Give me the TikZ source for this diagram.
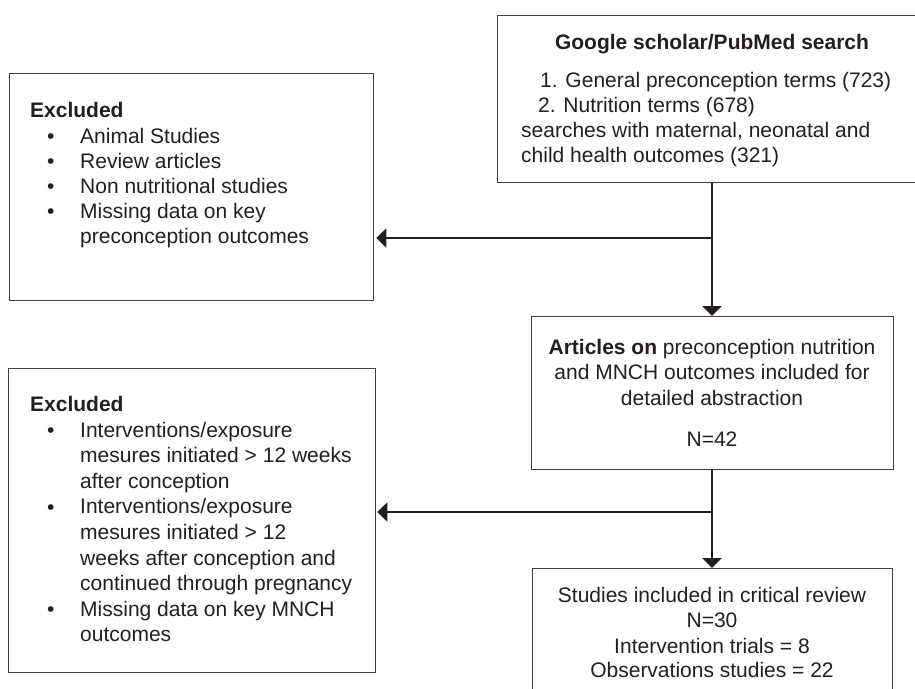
\documentclass[tikz,border=0pt]{standalone}
\usepackage{fontspec}
\setmainfont{Liberation Sans}
\usetikzlibrary{arrows.meta}
\definecolor{ink}{HTML}{231F20}
\begin{document}
\begin{tikzpicture}[x=1pt,y=-1pt,
  frame/.style={draw=ink!85, line width=1.3pt, inner sep=0pt, anchor=north west},
  txt/.style={inner sep=0pt, text=ink, font=\fontsize{21}{25}\selectfont},
  lt/.style={txt, anchor=base west},
  ct/.style={txt, anchor=base},
  flow/.style={draw=ink, line width=2.2pt, -{Triangle[width=19pt,length=10pt]}}]
\useasboundingbox[fill=white] (0,0) rectangle (915,688);

% boxes
\node[frame, minimum width=430pt, minimum height=167pt] (search) at (497,15) {};
\node[frame, minimum width=364pt, minimum height=227pt] (ex1) at (9,73) {};
\node[frame, minimum width=362pt, minimum height=153pt] (art) at (531,316) {};
\node[frame, minimum width=367pt, minimum height=304pt] (ex2) at (8,368) {};
\node[frame, minimum width=360pt, minimum height=140pt] (stud) at (532,568) {};

% search box
\node[ct] (s0) at (712,49) {\textbf{Google scholar/PubMed search}};
\node[lt] (s1) at (540,87) {1. General preconception terms (723)};
\node[lt] (s2) at (538,112) {2. Nutrition terms (678)};
\node[lt] (s3) at (521,137) {searches with maternal, neonatal and};
\node[lt] (s4) at (521,162) {child health outcomes (321)};

% first exclusion list
\node[lt] (e0) at (30,117) {\textbf{Excluded}};
\foreach \y/\n in {143/a,168/b,193/c,218/d}
  \node[lt] (eb\n) at (47,\y) {•};
\node[lt] (e1) at (80,143) {Animal Studies};
\node[lt] (e2) at (80,168) {Review articles};
\node[lt] (e3) at (80,193) {Non nutritional studies};
\node[lt] (e4) at (80,218) {Missing data on key};
\node[lt] (e5) at (80,243) {preconception outcomes};

% articles box
\node[ct] (a1) at (712,354) {\textbf{Articles on} preconception nutrition};
\node[ct] (a2) at (712,379) {and MNCH outcomes included for};
\node[ct] (a3) at (712,405) {detailed abstraction};
\node[ct] (a4) at (712,446) {N=42};

% second exclusion list
\node[lt] (f0) at (30,411) {\textbf{Excluded}};
\foreach \y/\n in {437/a,514/b,616/c}
  \node[lt] (fb\n) at (47,\y) {•};
\node[lt] (f1) at (80,437) {Interventions/exposure};
\node[lt] (f2) at (80,462.6) {mesures initiated > 12 weeks};
\node[lt] (f3) at (80,488.2) {after conception};
\node[lt] (f4) at (80,513.8) {Interventions/exposure};
\node[lt] (f5) at (80,539.4) {mesures initiated > 12};
\node[lt] (f6) at (80,565) {weeks after conception and};
\node[lt] (f7) at (80,590.6) {continued through pregnancy};
\node[lt] (f8) at (80,616.2) {Missing data on key MNCH};
\node[lt] (f9) at (80,641.8) {outcomes};

% included studies box
\node[ct] (t1) at (712,602) {Studies included in critical review};
\node[ct] (t2) at (712,627) {N=30};
\node[ct] (t3) at (712,653) {Intervention trials = 8};
\node[ct] (t4) at (712,677) {Observations studies = 22};

% connectors
\coordinate (j1) at (712,238);
\coordinate (j2) at (712,512);
\draw[flow] (search.south -| j1) -- (art.north -| j1);
\draw[flow, shorten >=2pt] (j1) -- (ex1.east |- j1);
\draw[flow] (art.south -| j2) -- (stud.north -| j2);
\draw[flow, shorten >=1pt] (j2) -- (ex2.east |- j2);
\end{tikzpicture}
\end{document}
